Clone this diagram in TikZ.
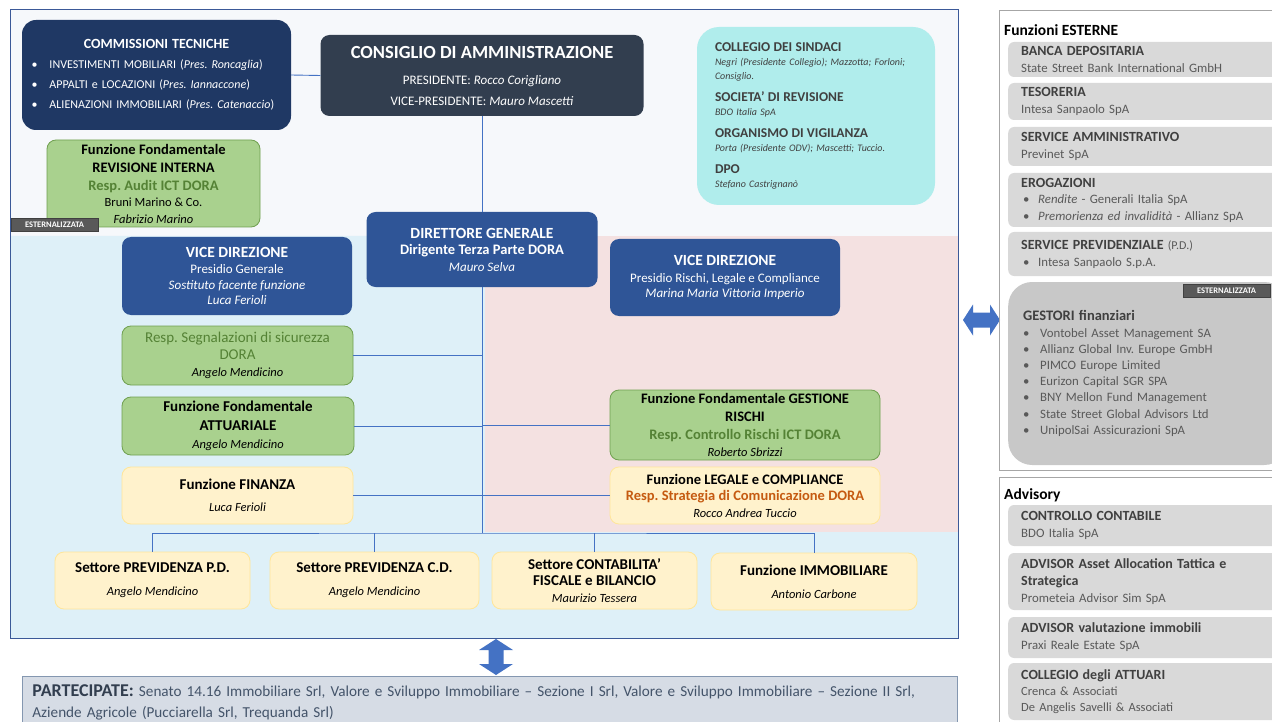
\documentclass[tikz,border=0pt]{standalone}
\usepackage{fontspec}
\setmainfont{Carlito}
\usepackage{xcolor}
\usetikzlibrary{positioning}
\definecolor{navy}{RGB}{31,56,100}
\definecolor{slate}{RGB}{50,62,79}
\definecolor{dirblue}{RGB}{47,85,151}
\definecolor{lineblue}{RGB}{68,114,196}
\definecolor{framecol}{RGB}{59,89,152}
\definecolor{leafgreen}{RGB}{169,209,142}
\definecolor{leafedge}{RGB}{112,160,80}
\definecolor{darkgreen}{RGB}{84,130,53}
\definecolor{paleyellow}{RGB}{255,242,204}
\definecolor{yellowedge}{RGB}{255,230,153}
\definecolor{aqua}{RGB}{176,237,236}
\definecolor{skyfill}{RGB}{222,240,248}
\definecolor{rosefill}{RGB}{244,225,225}
\definecolor{topfill}{RGB}{246,248,251}
\definecolor{greybox}{RGB}{217,217,217}
\definecolor{panelline}{RGB}{166,166,166}
\definecolor{tagfill}{RGB}{89,89,89}
\definecolor{inktext}{RGB}{64,64,64}
\definecolor{subtext}{RGB}{89,89,89}
\definecolor{commorange}{RGB}{197,90,17}
\definecolor{partfill}{RGB}{214,220,229}
\definecolor{partedge}{RGB}{132,151,176}
\definecolor{parttext}{RGB}{68,84,106}
\newcommand{\fsz}[2]{\fontsize{#1}{#2}\selectfont}
\frenchspacing

\tikzset{
  orgbox/.style={rounded corners=9pt, align=center, inner sep=2pt},
  navybox/.style={orgbox, fill=navy, text=white},
  slatebox/.style={orgbox, fill=slate, text=white},
  bluebox/.style={orgbox, fill=dirblue, text=white},
  greenbox/.style={orgbox, fill=leafgreen, draw=leafedge, line width=0.8pt},
  yellowbox/.style={orgbox, fill=paleyellow, draw=yellowedge, line width=0.8pt},
  aquabox/.style={orgbox, rounded corners=22pt, fill=aqua, align=left, text=inktext},
  extbox/.style={rounded corners=6pt, fill=greybox, align=left, anchor=west, text=subtext,
    inner xsep=13pt, inner ysep=0pt, text width=254pt, font=\fsz{12.8}{17}},
  outtag/.style={fill=tagfill, draw=black!75, text=white, font=\bfseries\fsz{8.5}{9},
    inner sep=0pt, minimum width=87pt, minimum height=13pt},
  orgline/.style={draw=lineblue, line width=0.9pt},
}

\begin{document}
\begin{tikzpicture}[x=1pt,y=-1pt]
  \clip (0,0) rectangle (1272,722);
  \fill[white] (0,0) rectangle (1272,722);

  % Frame and areas
  \fill[topfill] (10,10) rectangle (958,638);
  \fill[skyfill] (10,236) -- (485,236) -- (485,532) -- (958,532) -- (958,638) -- (10,638) -- cycle;
  \fill[rosefill] (485,236) rectangle (958,532);
  \draw[framecol, line width=1pt] (10,10) rectangle (958,638);

  % Top
  \node[navybox, rounded corners=14pt, minimum width=269pt, minimum height=110pt,
        text width=250pt, align=left, font=\fsz{12}{20}] (comm) at (156.5,75)
    {{\centering\bfseries\fsz{14}{20}COMMISSIONI TECNICHE\par}
     \makebox[18pt][l]{\textbullet}INVESTIMENTI MOBILIARI (\textit{Pres. Roncaglia})\\
     \makebox[18pt][l]{\textbullet}APPALTI e LOCAZIONI (\textit{Pres. Iannaccone})\\
     \makebox[18pt][l]{\textbullet}ALIENAZIONI IMMOBILIARI (\textit{Pres. Catenaccio})};
  \node[slatebox, minimum width=323pt, minimum height=81pt, font=\fsz{13}{21}] (cda) at (482,75.5)
    {{\bfseries\fsz{18.5}{21}CONSIGLIO DI AMMINISTRAZIONE}\\[5pt]
     PRESIDENTE: \textit{Rocco Corigliano}\\
     VICE-PRESIDENTE: \textit{Mauro Mascetti}};
  \node[aquabox, minimum width=238pt, minimum height=178pt, text width=202pt,
        font=\itshape\fsz{10}{14}] (sindaci) at (816,116)
    {{\upshape\bfseries\fsz{13.5}{14}COLLEGIO DEI SINDACI}\\
     Negri (Presidente Collegio); Mazzotta; Forloni;\\
     Consiglio.\\[8pt]
     {\upshape\bfseries\fsz{13.5}{14}SOCIETA’ DI REVISIONE}\\
     BDO Italia SpA\\[8pt]
     {\upshape\bfseries\fsz{13.5}{14}ORGANISMO DI VIGILANZA}\\
     Porta (Presidente ODV); Mascetti; Tuccio.\\[8pt]
     {\upshape\bfseries\fsz{13.5}{14}DPO}\\
     Stefano Castrignanò};
  \node[greenbox, minimum width=213pt, minimum height=87pt, font=\fsz{12.5}{16.5}] (revint) at (153.5,183.5)
    {{\bfseries\fsz{14.5}{16}Funzione Fondamentale}\\[1.5pt]
     {\bfseries\fsz{14.5}{16}REVISIONE INTERNA}\\[1.5pt]
     {\color{darkgreen}\bfseries\fsz{14.5}{16}Resp. Audit ICT DORA}\\
     Bruni Marino \& Co.\\
     \textit{Fabrizio Marino}};
  \node[outtag] (tagrev) at (54.5,224.5) {ESTERNALIZZATA};

  % Direzione
  \node[bluebox, minimum width=231pt, minimum height=75pt, font=\fsz{13}{16.5}] (dg) at (482,249.5)
    {{\bfseries\fsz{15.5}{16}DIRETTORE GENERALE}\\
     {\bfseries\fsz{14.5}{16}Dirigente Terza Parte DORA}\\
     \textit{Mauro Selva}};
  \node[bluebox, minimum width=230pt, minimum height=78pt, font=\fsz{13}{15.3}] (vdgen) at (237,276)
    {{\bfseries\fsz{15.5}{16}VICE DIREZIONE}\\[1pt]
     Presidio Generale\\
     \textit{Sostituto facente funzione}\\
     \textit{Luca Ferioli}};
  \node[bluebox, minimum width=230pt, minimum height=77pt, font=\fsz{13}{15.5}] (vdrisk) at (725,277.5)
    {{\bfseries\fsz{15.5}{16}VICE DIREZIONE}\\[1pt]
     Presidio Rischi, Legale e Compliance\\
     \textit{Marina Maria Vittoria Imperio}};

  % Funzioni
  \node[greenbox, minimum width=231pt, minimum height=59pt, font=\fsz{12.5}{17}] (segn) at (237.5,355.5)
    {{\color{darkgreen}\fsz{15}{17}Resp. Segnalazioni di sicurezza}\\
     {\color{darkgreen}\fsz{15}{17}DORA}\\
     \textit{Angelo Mendicino}};
  \node[greenbox, minimum width=232pt, minimum height=58pt, font=\fsz{12.5}{18.5}] (attuar) at (238,426)
    {{\bfseries\fsz{15}{17}Funzione Fondamentale}\\
     {\bfseries\fsz{15}{17}ATTUARIALE}\\
     \textit{Angelo Mendicino}};
  \node[yellowbox, minimum width=231pt, minimum height=57pt, font=\fsz{12.5}{22}] (finanza) at (237.5,495.5)
    {{\bfseries\fsz{15}{17}Funzione FINANZA}\\
     \textit{Luca Ferioli}};
  \node[greenbox, minimum width=270pt, minimum height=70pt, font=\fsz{12.5}{17}] (rischi) at (745,425)
    {{\bfseries\fsz{14.5}{17}Funzione Fondamentale GESTIONE}\\[1pt]
     {\bfseries\fsz{14.5}{17}RISCHI}\\[1pt]
     {\color{darkgreen}\bfseries\fsz{14.5}{17}Resp. Controllo Rischi ICT DORA}\\
     \textit{Roberto Sbrizzi}};
  \node[yellowbox, minimum width=270pt, minimum height=57pt, font=\fsz{12.5}{16.5}] (legale) at (745,495.5)
    {{\bfseries\fsz{14.5}{17}Funzione LEGALE e COMPLIANCE}\\
     {\color{commorange}\bfseries\fsz{14.5}{17}Resp. Strategia di Comunicazione DORA}\\
     \textit{Rocco Andrea Tuccio}};

  % Settori
  \node[yellowbox, minimum width=195pt, minimum height=57pt, font=\fsz{12.5}{23}] (prevpd) at (152.5,580.5)
    {{\bfseries\fsz{15}{17}Settore PREVIDENZA P.D.}\\
     \textit{Angelo Mendicino}};
  \node[yellowbox, minimum width=209pt, minimum height=57pt, font=\fsz{12.5}{23}] (prevcd) at (374.5,580.5)
    {{\bfseries\fsz{15}{17}Settore PREVIDENZA C.D.}\\
     \textit{Angelo Mendicino}};
  \node[yellowbox, minimum width=205pt, minimum height=57pt, font=\fsz{12.5}{16.5}] (contab) at (594.5,580.5)
    {{\bfseries\fsz{15}{17}Settore CONTABILITA’}\\
     {\bfseries\fsz{15}{17}FISCALE e BILANCIO}\\
     \textit{Maurizio Tessera}};
  \node[yellowbox, minimum width=206pt, minimum height=57pt, font=\fsz{12.5}{23}] (immob) at (814,581.5)
    {{\bfseries\fsz{15}{17}Funzione IMMOBILIARE}\\
     \textit{Antonio Carbone}};

  % Links
  \coordinate (bus) at (482,533);
  \draw[orgline] (comm.east) -- (cda.west);
  \draw[orgline] (cda.south) -- (dg.north);
  \draw[orgline] (dg.south) -- (bus);
  \draw[orgline] (segn.east) -- (segn.east -| bus);
  \draw[orgline] (attuar.east) -- (attuar.east -| bus);
  \draw[orgline] (finanza.east) -- (finanza.east -| bus);
  \draw[orgline] (rischi.west) -- (rischi.west -| bus);
  \draw[orgline] (legale.west) -- (legale.west -| bus);
  \draw[orgline] (prevpd.north) |- (bus) -| (immob.north);
  \draw[orgline] (prevcd.north) -- (prevcd.north |- bus);
  \draw[orgline] (contab.north) -- (contab.north |- bus);

  % Partecipate
  \fill[lineblue] (496,639) -- (513,650) -- (503.5,650) -- (503.5,664) -- (513,664) -- (496,675)
    -- (479,664) -- (488.5,664) -- (488.5,650) -- (479,650) -- cycle;
  \node[anchor=north west, fill=partfill, draw=partedge, line width=0.8pt, align=left,
        text width=915pt, inner xsep=10pt, inner ysep=8pt, minimum width=935pt,
        text=parttext, font=\fsz{15.2}{21}] (partec) at (22,676)
    {{\color{slate}\bfseries\fsz{18}{21}PARTECIPATE:} Senato 14.16 Immobiliare Srl, Valore e Sviluppo Immobiliare -- Sezione I Srl, Valore e Sviluppo Immobiliare -- Sezione II Srl,\\
     Aziende Agricole (Pucciarella Srl, Trequanda Srl)};

  % Funzioni esterne
  \fill[lineblue] (963,320) -- (973,304.5) -- (973,312.5) -- (990,312.5) -- (990,304.5) -- (1000,320)
    -- (990,335.5) -- (990,327.5) -- (973,327.5) -- (973,335.5) -- cycle;
  \draw[panelline] (999,10) rectangle (1290,470);
  \node[anchor=west, inner sep=0pt, font=\bfseries\fsz{15.5}{16}] (estern) at (1004,30) {Funzioni ESTERNE};
  \node[extbox, minimum height=35pt] (banca) at (1008,59.5)
    {{\color{inktext}\bfseries\fsz{14}{17}BANCA DEPOSITARIA}\\State Street Bank International GmbH};
  \node[extbox, minimum height=37pt] (tesor) at (1008,101.5)
    {{\color{inktext}\bfseries\fsz{14}{17}TESORERIA}\\Intesa Sanpaolo SpA};
  \node[extbox, minimum height=39pt] (servamm) at (1008,146.5)
    {{\color{inktext}\bfseries\fsz{14}{17}SERVICE AMMINISTRATIVO}\\Previnet SpA};
  \node[extbox, minimum height=54pt, font=\fsz{12.8}{16.5}] (erog) at (1008,200)
    {{\color{inktext}\bfseries\fsz{14}{17}EROGAZIONI}\\
     \hspace*{2pt}\makebox[15pt][l]{\textbullet}\textit{Rendite} - Generali Italia SpA\\
     \hspace*{2pt}\makebox[15pt][l]{\textbullet}\textit{Premorienza ed invalidità} - Allianz SpA};
  \node[extbox, minimum height=44pt] (servprev) at (1008,254)
    {{\color{inktext}\bfseries\fsz{14}{17}SERVICE PREVIDENZIALE} {\fsz{12}{17}(P.D.)}\\
     \hspace*{2pt}\makebox[15pt][l]{\textbullet}Intesa Sanpaolo S.p.A.};
  \node[extbox, rounded corners=24pt, fill=greybox!92!black, minimum height=183pt, inner xsep=15pt,
        text width=250pt, font=\fsz{12.8}{16.2}] (gestori) at (1008,373.5)
    {{\color{inktext}\bfseries\fsz{14.5}{16}GESTORI finanziari}\\
     \makebox[17pt][l]{\textbullet}Vontobel Asset Management SA\\
     \makebox[17pt][l]{\textbullet}Allianz Global Inv. Europe GmbH\\
     \makebox[17pt][l]{\textbullet}PIMCO Europe Limited\\
     \makebox[17pt][l]{\textbullet}Eurizon Capital SGR SPA\\
     \makebox[17pt][l]{\textbullet}BNY Mellon Fund Management\\
     \makebox[17pt][l]{\textbullet}State Street Global Advisors Ltd\\
     \makebox[17pt][l]{\textbullet}UnipolSai Assicurazioni SpA};
  \node[outtag] (taggest) at (1226.5,290.5) {ESTERNALIZZATA};

  % Advisory
  \draw[panelline] (999,477) rectangle (1290,740);
  \node[anchor=west, inner sep=0pt, font=\bfseries\fsz{15.5}{16}] (advis) at (1004,495) {Advisory};
  \node[extbox, minimum height=41pt] (contcont) at (1008,525.5)
    {{\color{inktext}\bfseries\fsz{14}{17}CONTROLLO CONTABILE}\\BDO Italia SpA};
  \node[extbox, minimum height=57pt] (advasset) at (1008,581.5)
    {{\color{inktext}\bfseries\fsz{14}{17}ADVISOR Asset Allocation Tattica e}\\
     {\color{inktext}\bfseries\fsz{14}{17}Strategica}\\Prometeia Advisor Sim SpA};
  \node[extbox, minimum height=41pt] (advimm) at (1008,637.5)
    {{\color{inktext}\bfseries\fsz{14}{17}ADVISOR valutazione immobili}\\Praxi Reale Estate SpA};
  \node[extbox, minimum height=57pt, font=\fsz{12.5}{16}] (attuari) at (1008,691.5)
    {{\color{inktext}\bfseries\fsz{14}{17}COLLEGIO degli ATTUARI}\\Crenca \& Associati\\De Angelis Savelli \& Associati};
\end{tikzpicture}
\end{document}
